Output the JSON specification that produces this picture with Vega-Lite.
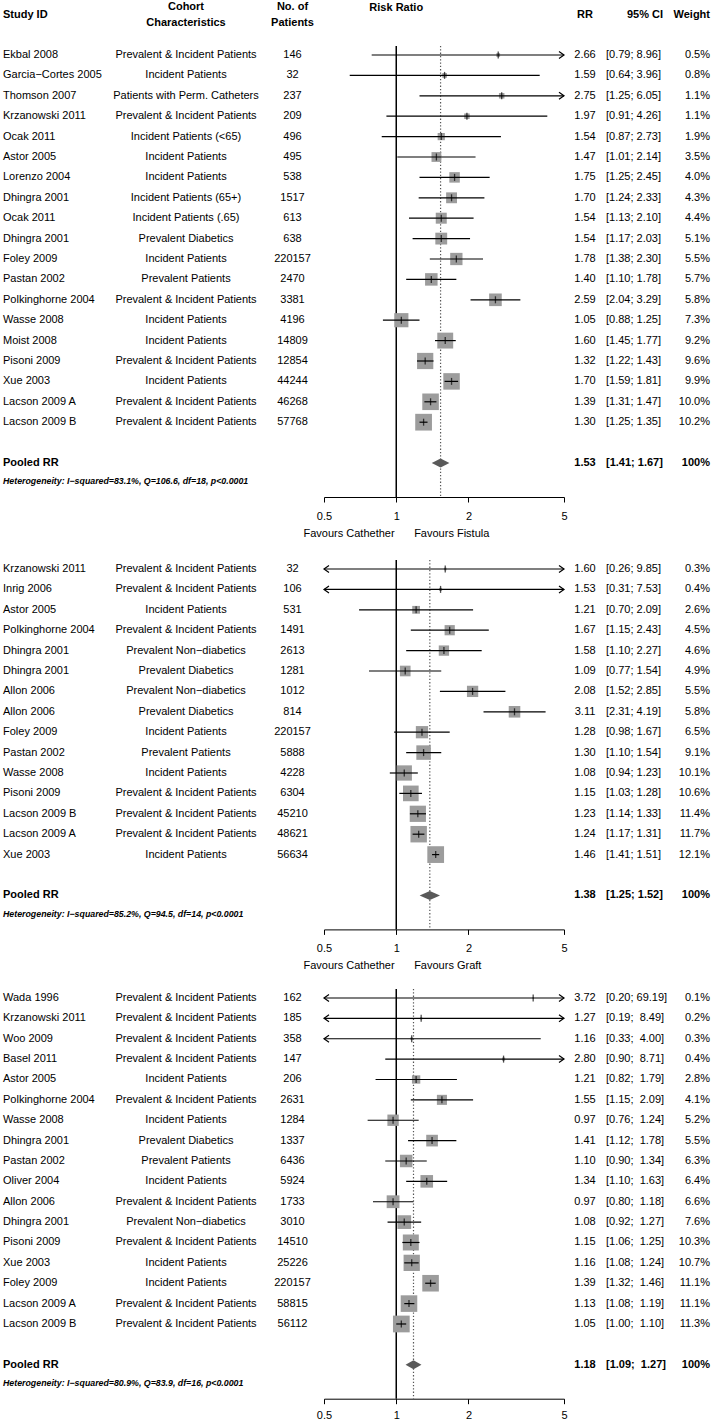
{
"$schema": "https://vega.github.io/schema/vega-lite/v6.json",
"padding": {"left": 3, "right": 5, "top": 0, "bottom": 0},
"config": {"font": "Liberation Sans", "view": {"stroke": null}, "text": {"fontSize": 11, "color": "black"}},
"datasets": {
"p1": [
{"id":"r1","study":"Ekbal 2008","cohort":"Prevalent & Incident Patients","n":146,"rr":2.66,"lo":0.79,"hi":8.96,"ci":"[0.79; 8.96]","w":0.005},
{"id":"r2","study":"Garcia−Cortes 2005","cohort":"Incident Patients","n":32,"rr":1.59,"lo":0.64,"hi":3.96,"ci":"[0.64; 3.96]","w":0.008},
{"id":"r3","study":"Thomson 2007","cohort":"Patients with Perm. Catheters","n":237,"rr":2.75,"lo":1.25,"hi":6.05,"ci":"[1.25; 6.05]","w":0.011},
{"id":"r4","study":"Krzanowski 2011","cohort":"Prevalent & Incident Patients","n":209,"rr":1.97,"lo":0.91,"hi":4.26,"ci":"[0.91; 4.26]","w":0.011},
{"id":"r5","study":"Ocak 2011","cohort":"Incident Patients (<65)","n":496,"rr":1.54,"lo":0.87,"hi":2.73,"ci":"[0.87; 2.73]","w":0.019},
{"id":"r6","study":"Astor 2005","cohort":"Incident Patients","n":495,"rr":1.47,"lo":1.01,"hi":2.14,"ci":"[1.01; 2.14]","w":0.035},
{"id":"r7","study":"Lorenzo 2004","cohort":"Incident Patients","n":538,"rr":1.75,"lo":1.25,"hi":2.45,"ci":"[1.25; 2.45]","w":0.040},
{"id":"r8","study":"Dhingra 2001","cohort":"Incident Patients (65+)","n":1517,"rr":1.70,"lo":1.24,"hi":2.33,"ci":"[1.24; 2.33]","w":0.043},
{"id":"r9","study":"Ocak 2011","cohort":"Incident Patients (.65)","n":613,"rr":1.54,"lo":1.13,"hi":2.10,"ci":"[1.13; 2.10]","w":0.044},
{"id":"r10","study":"Dhingra 2001","cohort":"Prevalent Diabetics","n":638,"rr":1.54,"lo":1.17,"hi":2.03,"ci":"[1.17; 2.03]","w":0.051},
{"id":"r11","study":"Foley 2009","cohort":"Incident Patients","n":220157,"rr":1.78,"lo":1.38,"hi":2.30,"ci":"[1.38; 2.30]","w":0.055},
{"id":"r12","study":"Pastan 2002","cohort":"Prevalent Patients","n":2470,"rr":1.40,"lo":1.10,"hi":1.78,"ci":"[1.10; 1.78]","w":0.057},
{"id":"r13","study":"Polkinghorne 2004","cohort":"Prevalent & Incident Patients","n":3381,"rr":2.59,"lo":2.04,"hi":3.29,"ci":"[2.04; 3.29]","w":0.058},
{"id":"r14","study":"Wasse 2008","cohort":"Incident Patients","n":4196,"rr":1.05,"lo":0.88,"hi":1.25,"ci":"[0.88; 1.25]","w":0.073},
{"id":"r15","study":"Moist 2008","cohort":"Incident Patients","n":14809,"rr":1.60,"lo":1.45,"hi":1.77,"ci":"[1.45; 1.77]","w":0.092},
{"id":"r16","study":"Pisoni 2009","cohort":"Prevalent & Incident Patients","n":12854,"rr":1.32,"lo":1.22,"hi":1.43,"ci":"[1.22; 1.43]","w":0.096},
{"id":"r17","study":"Xue 2003","cohort":"Incident Patients","n":44244,"rr":1.70,"lo":1.59,"hi":1.81,"ci":"[1.59; 1.81]","w":0.099},
{"id":"r18","study":"Lacson 2009 A","cohort":"Prevalent & Incident Patients","n":46268,"rr":1.39,"lo":1.31,"hi":1.47,"ci":"[1.31; 1.47]","w":0.100},
{"id":"r19","study":"Lacson 2009 B","cohort":"Prevalent & Incident Patients","n":57768,"rr":1.30,"lo":1.25,"hi":1.35,"ci":"[1.25; 1.35]","w":0.102}
],
"q1": [{"id":"pooled","label":"Pooled RR","rr":1.53,"lo":1.41,"hi":1.67,"ci":"[1.41; 1.67]","w":1,"het":"Heterogeneity: I−squared=83.1%, Q=106.6, df=18, p<0.0001"}],
"p2": [
{"id":"r1","study":"Krzanowski 2011","cohort":"Prevalent & Incident Patients","n":32,"rr":1.60,"lo":0.26,"hi":9.85,"ci":"[0.26; 9.85]","w":0.003},
{"id":"r2","study":"Inrig 2006","cohort":"Prevalent & Incident Patients","n":106,"rr":1.53,"lo":0.31,"hi":7.53,"ci":"[0.31; 7.53]","w":0.004},
{"id":"r3","study":"Astor 2005","cohort":"Incident Patients","n":531,"rr":1.21,"lo":0.70,"hi":2.09,"ci":"[0.70; 2.09]","w":0.026},
{"id":"r4","study":"Polkinghorne 2004","cohort":"Prevalent & Incident Patients","n":1491,"rr":1.67,"lo":1.15,"hi":2.43,"ci":"[1.15; 2.43]","w":0.045},
{"id":"r5","study":"Dhingra 2001","cohort":"Prevalent Non−diabetics","n":2613,"rr":1.58,"lo":1.10,"hi":2.27,"ci":"[1.10; 2.27]","w":0.046},
{"id":"r6","study":"Dhingra 2001","cohort":"Prevalent Diabetics","n":1281,"rr":1.09,"lo":0.77,"hi":1.54,"ci":"[0.77; 1.54]","w":0.049},
{"id":"r7","study":"Allon 2006","cohort":"Prevalent Non−diabetics","n":1012,"rr":2.08,"lo":1.52,"hi":2.85,"ci":"[1.52; 2.85]","w":0.055},
{"id":"r8","study":"Allon 2006","cohort":"Prevalent Diabetics","n":814,"rr":3.11,"lo":2.31,"hi":4.19,"ci":"[2.31; 4.19]","w":0.058},
{"id":"r9","study":"Foley 2009","cohort":"Incident Patients","n":220157,"rr":1.28,"lo":0.98,"hi":1.67,"ci":"[0.98; 1.67]","w":0.065},
{"id":"r10","study":"Pastan 2002","cohort":"Prevalent Patients","n":5888,"rr":1.30,"lo":1.10,"hi":1.54,"ci":"[1.10; 1.54]","w":0.091},
{"id":"r11","study":"Wasse 2008","cohort":"Incident Patients","n":4228,"rr":1.08,"lo":0.94,"hi":1.23,"ci":"[0.94; 1.23]","w":0.101},
{"id":"r12","study":"Pisoni 2009","cohort":"Prevalent & Incident Patients","n":6304,"rr":1.15,"lo":1.03,"hi":1.28,"ci":"[1.03; 1.28]","w":0.106},
{"id":"r13","study":"Lacson 2009 B","cohort":"Prevalent & Incident Patients","n":45210,"rr":1.23,"lo":1.14,"hi":1.33,"ci":"[1.14; 1.33]","w":0.114},
{"id":"r14","study":"Lacson 2009 A","cohort":"Prevalent & Incident Patients","n":48621,"rr":1.24,"lo":1.17,"hi":1.31,"ci":"[1.17; 1.31]","w":0.117},
{"id":"r15","study":"Xue 2003","cohort":"Incident Patients","n":56634,"rr":1.46,"lo":1.41,"hi":1.51,"ci":"[1.41; 1.51]","w":0.121}
],
"q2": [{"id":"pooled","label":"Pooled RR","rr":1.38,"lo":1.25,"hi":1.52,"ci":"[1.25; 1.52]","w":1,"het":"Heterogeneity: I−squared=85.2%, Q=94.5, df=14, p<0.0001"}],
"p3": [
{"id":"r1","study":"Wada 1996","cohort":"Prevalent & Incident Patients","n":162,"rr":3.72,"lo":0.20,"hi":69.19,"ci":"[0.20; 69.19]","w":0.001},
{"id":"r2","study":"Krzanowski 2011","cohort":"Prevalent & Incident Patients","n":185,"rr":1.27,"lo":0.19,"hi":8.49,"ci":"[0.19;\u00a0 8.49]","w":0.002},
{"id":"r3","study":"Woo 2009","cohort":"Prevalent & Incident Patients","n":358,"rr":1.16,"lo":0.33,"hi":4.00,"ci":"[0.33;\u00a0 4.00]","w":0.003},
{"id":"r4","study":"Basel 2011","cohort":"Prevalent & Incident Patients","n":147,"rr":2.80,"lo":0.90,"hi":8.71,"ci":"[0.90;\u00a0 8.71]","w":0.004},
{"id":"r5","study":"Astor 2005","cohort":"Incident Patients","n":206,"rr":1.21,"lo":0.82,"hi":1.79,"ci":"[0.82;\u00a0 1.79]","w":0.028},
{"id":"r6","study":"Polkinghorne 2004","cohort":"Prevalent & Incident Patients","n":2631,"rr":1.55,"lo":1.15,"hi":2.09,"ci":"[1.15;\u00a0 2.09]","w":0.041},
{"id":"r7","study":"Wasse 2008","cohort":"Incident Patients","n":1284,"rr":0.97,"lo":0.76,"hi":1.24,"ci":"[0.76;\u00a0 1.24]","w":0.052},
{"id":"r8","study":"Dhingra 2001","cohort":"Prevalent Diabetics","n":1337,"rr":1.41,"lo":1.12,"hi":1.78,"ci":"[1.12;\u00a0 1.78]","w":0.055},
{"id":"r9","study":"Pastan 2002","cohort":"Prevalent Patients","n":6436,"rr":1.10,"lo":0.90,"hi":1.34,"ci":"[0.90;\u00a0 1.34]","w":0.063},
{"id":"r10","study":"Oliver 2004","cohort":"Incident Patients","n":5924,"rr":1.34,"lo":1.10,"hi":1.63,"ci":"[1.10;\u00a0 1.63]","w":0.064},
{"id":"r11","study":"Allon 2006","cohort":"Prevalent & Incident Patients","n":1733,"rr":0.97,"lo":0.80,"hi":1.18,"ci":"[0.80;\u00a0 1.18]","w":0.066},
{"id":"r12","study":"Dhingra 2001","cohort":"Prevalent Non−diabetics","n":3010,"rr":1.08,"lo":0.92,"hi":1.27,"ci":"[0.92;\u00a0 1.27]","w":0.076},
{"id":"r13","study":"Pisoni 2009","cohort":"Prevalent & Incident Patients","n":14510,"rr":1.15,"lo":1.06,"hi":1.25,"ci":"[1.06;\u00a0 1.25]","w":0.103},
{"id":"r14","study":"Xue 2003","cohort":"Incident Patients","n":25226,"rr":1.16,"lo":1.08,"hi":1.24,"ci":"[1.08;\u00a0 1.24]","w":0.107},
{"id":"r15","study":"Foley 2009","cohort":"Incident Patients","n":220157,"rr":1.39,"lo":1.32,"hi":1.46,"ci":"[1.32;\u00a0 1.46]","w":0.111},
{"id":"r16","study":"Lacson 2009 A","cohort":"Prevalent & Incident Patients","n":58815,"rr":1.13,"lo":1.08,"hi":1.19,"ci":"[1.08;\u00a0 1.19]","w":0.111},
{"id":"r17","study":"Lacson 2009 B","cohort":"Prevalent & Incident Patients","n":56112,"rr":1.05,"lo":1.00,"hi":1.10,"ci":"[1.00;\u00a0 1.10]","w":0.113}
],
"q3": [{"id":"pooled","label":"Pooled RR","rr":1.18,"lo":1.09,"hi":1.27,"ci":"[1.09;\u00a0 1.27]","w":1,"het":"Heterogeneity: I−squared=80.9%, Q=83.9, df=16, p<0.0001"}]
},
"spacing": 21,
"resolve": {"scale": {"size": "independent"}},
"vconcat": [
{"spacing": 15, "resolve": {"scale": {"size": "independent"}}, "vconcat": [
 {"bounds": "flush", "spacing": 0, "hconcat": [
  {"width": 108, "height": 30, "data": {"values": [{}]}, "mark": {"type": "text", "align": "left", "fontWeight": "bold", "text": "Study ID"}, "encoding": {"x": {"datum": 0, "type": "quantitative", "scale": {"domain": [0, 1]}, "axis": null}}},
  {"width": 150, "height": 30, "data": {"values": [{}]}, "mark": {"type": "text", "fontWeight": "bold", "text": ["Cohort", "Characteristics"], "lineHeight": 15.3, "dy": -7.65}, "encoding": {}},
  {"width": 63, "height": 30, "data": {"values": [{}]}, "mark": {"type": "text", "fontWeight": "bold", "text": ["No. of", "Patients"], "lineHeight": 15.3, "dy": -7.65}, "encoding": {}},
  {"width": 240, "height": 30, "data": {"values": [{}]}, "mark": {"type": "text", "fontWeight": "bold", "text": "Risk Ratio", "dy": -7}, "encoding": {"x": {"datum": 1, "type": "quantitative", "scale": {"type": "log", "domain": [0.5, 5], "nice": false}, "axis": null}}},
  {"width": 42, "height": 30, "data": {"values": [{}]}, "mark": {"type": "text", "fontWeight": "bold", "text": "RR"}, "encoding": {}},
  {"width": 57, "height": 30, "data": {"values": [{}]}, "mark": {"type": "text", "align": "right", "fontWeight": "bold", "text": "95% CI"}, "encoding": {"x": {"datum": 1, "type": "quantitative", "scale": {"domain": [0, 1]}, "axis": null}}},
  {"width": 47, "height": 30, "data": {"values": [{}]}, "mark": {"type": "text", "align": "right", "fontWeight": "bold", "text": "Weight"}, "encoding": {"x": {"datum": 1, "type": "quantitative", "scale": {"domain": [0, 1]}, "axis": null}}}
 ]},
 {"bounds": "flush", "spacing": 0, "hconcat": [
  {"width": 108, "height": 451, "layer": [
   {"data": {"name": "p1"}, "mark": {"type": "text", "align": "left"}, "encoding": {"x": {"datum": 0, "type": "quantitative", "scale": {"domain": [0, 1]}, "axis": null}, "y": {"field": "id", "type": "nominal", "scale": {"type": "point", "domain": ["r1","r2","r3","r4","r5","r6","r7","r8","r9","r10","r11","r12","r13","r14","r15","r16","r17","r18","r19","gap","pooled","het"], "padding": 0.554, "align": 0.398}, "axis": null}, "text": {"field": "study", "type": "nominal"}}},
   {"data": {"name": "q1"}, "mark": {"type": "text", "align": "left", "fontWeight": "bold"}, "encoding": {"x": {"datum": 0, "type": "quantitative", "scale": {"domain": [0, 1]}, "axis": null}, "y": {"field": "id", "type": "nominal", "axis": null}, "text": {"field": "label", "type": "nominal"}}},
   {"data": {"name": "q1"}, "mark": {"type": "text", "align": "left", "fontWeight": "bold", "fontStyle": "italic", "fontSize": 8.8, "dy": -2}, "encoding": {"x": {"datum": 0, "type": "quantitative", "scale": {"domain": [0, 1]}, "axis": null}, "y": {"datum": "het", "type": "nominal", "axis": null}, "text": {"field": "het", "type": "nominal"}}}
  ]},
  {"width": 150, "height": 451, "data": {"name": "p1"}, "mark": {"type": "text"}, "encoding": {"y": {"field": "id", "type": "nominal", "scale": {"type": "point", "domain": ["r1","r2","r3","r4","r5","r6","r7","r8","r9","r10","r11","r12","r13","r14","r15","r16","r17","r18","r19","gap","pooled","het"], "padding": 0.554, "align": 0.398}, "axis": null}, "text": {"field": "cohort", "type": "nominal"}}},
  {"width": 63, "height": 451, "data": {"name": "p1"}, "mark": {"type": "text"}, "encoding": {"y": {"field": "id", "type": "nominal", "scale": {"type": "point", "domain": ["r1","r2","r3","r4","r5","r6","r7","r8","r9","r10","r11","r12","r13","r14","r15","r16","r17","r18","r19","gap","pooled","het"], "padding": 0.554, "align": 0.398}, "axis": null}, "text": {"field": "n", "type": "nominal"}}},
  {"width": 240, "height": 451, "layer": [
   {"data": {"values": [{"ref": 1}]}, "mark": {"type": "rule", "color": "black", "strokeWidth": 1.5}, "encoding": {"x": {"field": "ref", "type": "quantitative", "scale": {"type": "log", "domain": [0.5, 5], "clamp": true, "nice": false}, "axis": {"values": [0.5, 1, 2, 5], "format": "~g", "grid": false, "domainColor": "black", "tickColor": "black", "tickSize": 5, "labelFontSize": 11, "labelColor": "black", "labelPadding": 8, "labelFlush": false, "labelOverlap": false, "title": "Favours Cathether\u2003\u2002\u00a0Favours Fistula", "titleFontWeight": "normal", "titleFontSize": 11, "titleColor": "black", "titleAlign": "left", "titleX": -21, "titlePadding": 6}}}},
   {"data": {"name": "q1"}, "mark": {"type": "rule", "color": "#555555", "strokeWidth": 1.2, "strokeDash": [1.3, 2]}, "encoding": {"x": {"field": "rr", "type": "quantitative"}}},
   {"data": {"name": "p1"}, "mark": {"type": "point", "shape": "square", "filled": true, "color": "#9c9c9c", "opacity": 1, "strokeWidth": 0}, "encoding": {"x": {"field": "rr", "type": "quantitative"}, "y": {"field": "id", "type": "nominal", "scale": {"type": "point", "domain": ["r1","r2","r3","r4","r5","r6","r7","r8","r9","r10","r11","r12","r13","r14","r15","r16","r17","r18","r19","gap","pooled","het"], "padding": 0.554, "align": 0.398}, "axis": null}, "size": {"field": "w", "type": "quantitative", "scale": {"type": "linear", "domain": [0, 0.102], "range": [0, 280]}, "legend": null}}},
   {"data": {"name": "p1"}, "mark": {"type": "rule", "color": "black", "strokeWidth": 1.2}, "encoding": {"x": {"field": "lo", "type": "quantitative"}, "x2": {"field": "hi"}, "y": {"field": "id", "type": "nominal", "axis": null}}},
   {"data": {"name": "p1"}, "mark": {"type": "tick", "color": "black", "thickness": 1.3, "size": 7}, "encoding": {"x": {"field": "rr", "type": "quantitative"}, "y": {"field": "id", "type": "nominal", "axis": null}}},
   {"data": {"name": "p1"}, "transform": [{"filter": "datum.hi > 5"}], "mark": {"type": "point", "shape": "M-1,-0.7L0,0L-1,0.7", "filled": false, "color": "black", "strokeWidth": 1.2, "size": 100, "opacity": 1}, "encoding": {"x": {"field": "hi", "type": "quantitative"}, "y": {"field": "id", "type": "nominal", "axis": null}}},
   {"data": {"name": "p1"}, "transform": [{"filter": "datum.lo < 0.5"}], "mark": {"type": "point", "shape": "M1,-0.7L0,0L1,0.7", "filled": false, "color": "black", "strokeWidth": 1.2, "size": 100, "opacity": 1}, "encoding": {"x": {"field": "lo", "type": "quantitative"}, "y": {"field": "id", "type": "nominal", "axis": null}}},
   {"data": {"name": "q1"}, "mark": {"type": "point", "shape": "M-1,0L0,-0.51L1,0L0,0.51Z", "filled": true, "color": "#595959", "size": 312, "opacity": 1}, "encoding": {"x": {"field": "rr", "type": "quantitative"}, "y": {"field": "id", "type": "nominal", "axis": null}}}
  ]},
  {"width": 42, "height": 451, "layer": [
   {"data": {"name": "p1"}, "mark": {"type": "text"}, "encoding": {"y": {"field": "id", "type": "nominal", "scale": {"type": "point", "domain": ["r1","r2","r3","r4","r5","r6","r7","r8","r9","r10","r11","r12","r13","r14","r15","r16","r17","r18","r19","gap","pooled","het"], "padding": 0.554, "align": 0.398}, "axis": null}, "text": {"field": "rr", "type": "quantitative", "format": ".2f"}}},
   {"data": {"name": "q1"}, "mark": {"type": "text", "fontWeight": "bold"}, "encoding": {"y": {"field": "id", "type": "nominal", "axis": null}, "text": {"field": "rr", "type": "quantitative", "format": ".2f"}}}
  ]},
  {"width": 57, "height": 451, "layer": [
   {"data": {"name": "p1"}, "mark": {"type": "text", "align": "left"}, "encoding": {"x": {"datum": 0, "type": "quantitative", "scale": {"domain": [0, 1]}, "axis": null}, "y": {"field": "id", "type": "nominal", "scale": {"type": "point", "domain": ["r1","r2","r3","r4","r5","r6","r7","r8","r9","r10","r11","r12","r13","r14","r15","r16","r17","r18","r19","gap","pooled","het"], "padding": 0.554, "align": 0.398}, "axis": null}, "text": {"field": "ci", "type": "nominal"}}},
   {"data": {"name": "q1"}, "mark": {"type": "text", "align": "left", "fontWeight": "bold"}, "encoding": {"x": {"datum": 0, "type": "quantitative", "scale": {"domain": [0, 1]}, "axis": null}, "y": {"field": "id", "type": "nominal", "axis": null}, "text": {"field": "ci", "type": "nominal"}}}
  ]},
  {"width": 47, "height": 451, "layer": [
   {"data": {"name": "p1"}, "mark": {"type": "text", "align": "right"}, "encoding": {"x": {"datum": 1, "type": "quantitative", "scale": {"domain": [0, 1]}, "axis": null}, "y": {"field": "id", "type": "nominal", "scale": {"type": "point", "domain": ["r1","r2","r3","r4","r5","r6","r7","r8","r9","r10","r11","r12","r13","r14","r15","r16","r17","r18","r19","gap","pooled","het"], "padding": 0.554, "align": 0.398}, "axis": null}, "text": {"field": "w", "type": "quantitative", "format": ".1%"}}},
   {"data": {"name": "q1"}, "mark": {"type": "text", "align": "right", "fontWeight": "bold"}, "encoding": {"x": {"datum": 1, "type": "quantitative", "scale": {"domain": [0, 1]}, "axis": null}, "y": {"field": "id", "type": "nominal", "axis": null}, "text": {"field": "w", "type": "quantitative", "format": ".0%"}}}
  ]}
 ]}
]},
{"spacing": 17, "resolve": {"scale": {"size": "independent"}}, "vconcat": [
{"bounds": "flush", "spacing": 0, "hconcat": [
  {"width": 108, "height": 369.4, "layer": [
   {"data": {"name": "p2"}, "mark": {"type": "text", "align": "left"}, "encoding": {"x": {"datum": 0, "type": "quantitative", "scale": {"domain": [0, 1]}, "axis": null}, "y": {"field": "id", "type": "nominal", "scale": {"type": "point", "domain": ["r1","r2","r3","r4","r5","r6","r7","r8","r9","r10","r11","r12","r13","r14","r15","gap","pooled","het"], "padding": 0.554, "align": 0.398}, "axis": null}, "text": {"field": "study", "type": "nominal"}}},
   {"data": {"name": "q2"}, "mark": {"type": "text", "align": "left", "fontWeight": "bold"}, "encoding": {"x": {"datum": 0, "type": "quantitative", "scale": {"domain": [0, 1]}, "axis": null}, "y": {"field": "id", "type": "nominal", "axis": null}, "text": {"field": "label", "type": "nominal"}}},
   {"data": {"name": "q2"}, "mark": {"type": "text", "align": "left", "fontWeight": "bold", "fontStyle": "italic", "fontSize": 8.8, "dy": -2}, "encoding": {"x": {"datum": 0, "type": "quantitative", "scale": {"domain": [0, 1]}, "axis": null}, "y": {"datum": "het", "type": "nominal", "axis": null}, "text": {"field": "het", "type": "nominal"}}}
  ]},
  {"width": 150, "height": 369.4, "data": {"name": "p2"}, "mark": {"type": "text"}, "encoding": {"y": {"field": "id", "type": "nominal", "scale": {"type": "point", "domain": ["r1","r2","r3","r4","r5","r6","r7","r8","r9","r10","r11","r12","r13","r14","r15","gap","pooled","het"], "padding": 0.554, "align": 0.398}, "axis": null}, "text": {"field": "cohort", "type": "nominal"}}},
  {"width": 63, "height": 369.4, "data": {"name": "p2"}, "mark": {"type": "text"}, "encoding": {"y": {"field": "id", "type": "nominal", "scale": {"type": "point", "domain": ["r1","r2","r3","r4","r5","r6","r7","r8","r9","r10","r11","r12","r13","r14","r15","gap","pooled","het"], "padding": 0.554, "align": 0.398}, "axis": null}, "text": {"field": "n", "type": "nominal"}}},
  {"width": 240, "height": 369.4, "layer": [
   {"data": {"values": [{"ref": 1}]}, "mark": {"type": "rule", "color": "black", "strokeWidth": 1.5}, "encoding": {"x": {"field": "ref", "type": "quantitative", "scale": {"type": "log", "domain": [0.5, 5], "clamp": true, "nice": false}, "axis": {"values": [0.5, 1, 2, 5], "format": "~g", "grid": false, "domainColor": "black", "tickColor": "black", "tickSize": 5, "labelFontSize": 11, "labelColor": "black", "labelPadding": 8, "labelFlush": false, "labelOverlap": false, "title": "Favours Cathether\u2003\u2002\u00a0Favours Graft", "titleFontWeight": "normal", "titleFontSize": 11, "titleColor": "black", "titleAlign": "left", "titleX": -21, "titlePadding": 6}}}},
   {"data": {"name": "q2"}, "mark": {"type": "rule", "color": "#555555", "strokeWidth": 1.2, "strokeDash": [1.3, 2]}, "encoding": {"x": {"field": "rr", "type": "quantitative"}}},
   {"data": {"name": "p2"}, "mark": {"type": "point", "shape": "square", "filled": true, "color": "#9c9c9c", "opacity": 1, "strokeWidth": 0}, "encoding": {"x": {"field": "rr", "type": "quantitative"}, "y": {"field": "id", "type": "nominal", "scale": {"type": "point", "domain": ["r1","r2","r3","r4","r5","r6","r7","r8","r9","r10","r11","r12","r13","r14","r15","gap","pooled","het"], "padding": 0.554, "align": 0.398}, "axis": null}, "size": {"field": "w", "type": "quantitative", "scale": {"type": "linear", "domain": [0, 0.121], "range": [0, 280]}, "legend": null}}},
   {"data": {"name": "p2"}, "mark": {"type": "rule", "color": "black", "strokeWidth": 1.2}, "encoding": {"x": {"field": "lo", "type": "quantitative"}, "x2": {"field": "hi"}, "y": {"field": "id", "type": "nominal", "axis": null}}},
   {"data": {"name": "p2"}, "mark": {"type": "tick", "color": "black", "thickness": 1.3, "size": 7}, "encoding": {"x": {"field": "rr", "type": "quantitative"}, "y": {"field": "id", "type": "nominal", "axis": null}}},
   {"data": {"name": "p2"}, "transform": [{"filter": "datum.hi > 5"}], "mark": {"type": "point", "shape": "M-1,-0.7L0,0L-1,0.7", "filled": false, "color": "black", "strokeWidth": 1.2, "size": 100, "opacity": 1}, "encoding": {"x": {"field": "hi", "type": "quantitative"}, "y": {"field": "id", "type": "nominal", "axis": null}}},
   {"data": {"name": "p2"}, "transform": [{"filter": "datum.lo < 0.5"}], "mark": {"type": "point", "shape": "M1,-0.7L0,0L1,0.7", "filled": false, "color": "black", "strokeWidth": 1.2, "size": 100, "opacity": 1}, "encoding": {"x": {"field": "lo", "type": "quantitative"}, "y": {"field": "id", "type": "nominal", "axis": null}}},
   {"data": {"name": "q2"}, "mark": {"type": "point", "shape": "M-1,0L0,-0.44L1,0L0,0.44Z", "filled": true, "color": "#595959", "size": 416, "opacity": 1}, "encoding": {"x": {"field": "rr", "type": "quantitative"}, "y": {"field": "id", "type": "nominal", "axis": null}}}
  ]},
  {"width": 42, "height": 369.4, "layer": [
   {"data": {"name": "p2"}, "mark": {"type": "text"}, "encoding": {"y": {"field": "id", "type": "nominal", "scale": {"type": "point", "domain": ["r1","r2","r3","r4","r5","r6","r7","r8","r9","r10","r11","r12","r13","r14","r15","gap","pooled","het"], "padding": 0.554, "align": 0.398}, "axis": null}, "text": {"field": "rr", "type": "quantitative", "format": ".2f"}}},
   {"data": {"name": "q2"}, "mark": {"type": "text", "fontWeight": "bold"}, "encoding": {"y": {"field": "id", "type": "nominal", "axis": null}, "text": {"field": "rr", "type": "quantitative", "format": ".2f"}}}
  ]},
  {"width": 57, "height": 369.4, "layer": [
   {"data": {"name": "p2"}, "mark": {"type": "text", "align": "left"}, "encoding": {"x": {"datum": 0, "type": "quantitative", "scale": {"domain": [0, 1]}, "axis": null}, "y": {"field": "id", "type": "nominal", "scale": {"type": "point", "domain": ["r1","r2","r3","r4","r5","r6","r7","r8","r9","r10","r11","r12","r13","r14","r15","gap","pooled","het"], "padding": 0.554, "align": 0.398}, "axis": null}, "text": {"field": "ci", "type": "nominal"}}},
   {"data": {"name": "q2"}, "mark": {"type": "text", "align": "left", "fontWeight": "bold"}, "encoding": {"x": {"datum": 0, "type": "quantitative", "scale": {"domain": [0, 1]}, "axis": null}, "y": {"field": "id", "type": "nominal", "axis": null}, "text": {"field": "ci", "type": "nominal"}}}
  ]},
  {"width": 47, "height": 369.4, "layer": [
   {"data": {"name": "p2"}, "mark": {"type": "text", "align": "right"}, "encoding": {"x": {"datum": 1, "type": "quantitative", "scale": {"domain": [0, 1]}, "axis": null}, "y": {"field": "id", "type": "nominal", "scale": {"type": "point", "domain": ["r1","r2","r3","r4","r5","r6","r7","r8","r9","r10","r11","r12","r13","r14","r15","gap","pooled","het"], "padding": 0.554, "align": 0.398}, "axis": null}, "text": {"field": "w", "type": "quantitative", "format": ".1%"}}},
   {"data": {"name": "q2"}, "mark": {"type": "text", "align": "right", "fontWeight": "bold"}, "encoding": {"x": {"datum": 1, "type": "quantitative", "scale": {"domain": [0, 1]}, "axis": null}, "y": {"field": "id", "type": "nominal", "axis": null}, "text": {"field": "w", "type": "quantitative", "format": ".0%"}}}
  ]}
]},
{"bounds": "flush", "spacing": 0, "hconcat": [
  {"width": 108, "height": 409.7, "layer": [
   {"data": {"name": "p3"}, "mark": {"type": "text", "align": "left"}, "encoding": {"x": {"datum": 0, "type": "quantitative", "scale": {"domain": [0, 1]}, "axis": null}, "y": {"field": "id", "type": "nominal", "scale": {"type": "point", "domain": ["r1","r2","r3","r4","r5","r6","r7","r8","r9","r10","r11","r12","r13","r14","r15","r16","r17","gap","pooled","het"], "padding": 0.554, "align": 0.398}, "axis": null}, "text": {"field": "study", "type": "nominal"}}},
   {"data": {"name": "q3"}, "mark": {"type": "text", "align": "left", "fontWeight": "bold"}, "encoding": {"x": {"datum": 0, "type": "quantitative", "scale": {"domain": [0, 1]}, "axis": null}, "y": {"field": "id", "type": "nominal", "axis": null}, "text": {"field": "label", "type": "nominal"}}},
   {"data": {"name": "q3"}, "mark": {"type": "text", "align": "left", "fontWeight": "bold", "fontStyle": "italic", "fontSize": 8.8, "dy": -2}, "encoding": {"x": {"datum": 0, "type": "quantitative", "scale": {"domain": [0, 1]}, "axis": null}, "y": {"datum": "het", "type": "nominal", "axis": null}, "text": {"field": "het", "type": "nominal"}}}
  ]},
  {"width": 150, "height": 409.7, "data": {"name": "p3"}, "mark": {"type": "text"}, "encoding": {"y": {"field": "id", "type": "nominal", "scale": {"type": "point", "domain": ["r1","r2","r3","r4","r5","r6","r7","r8","r9","r10","r11","r12","r13","r14","r15","r16","r17","gap","pooled","het"], "padding": 0.554, "align": 0.398}, "axis": null}, "text": {"field": "cohort", "type": "nominal"}}},
  {"width": 63, "height": 409.7, "data": {"name": "p3"}, "mark": {"type": "text"}, "encoding": {"y": {"field": "id", "type": "nominal", "scale": {"type": "point", "domain": ["r1","r2","r3","r4","r5","r6","r7","r8","r9","r10","r11","r12","r13","r14","r15","r16","r17","gap","pooled","het"], "padding": 0.554, "align": 0.398}, "axis": null}, "text": {"field": "n", "type": "nominal"}}},
  {"width": 240, "height": 409.7, "layer": [
   {"data": {"values": [{"ref": 1}]}, "mark": {"type": "rule", "color": "black", "strokeWidth": 1.5}, "encoding": {"x": {"field": "ref", "type": "quantitative", "scale": {"type": "log", "domain": [0.5, 5], "clamp": true, "nice": false}, "axis": {"values": [0.5, 1, 2, 5], "format": "~g", "grid": false, "domainColor": "black", "tickColor": "black", "tickSize": 5, "labelFontSize": 11, "labelColor": "black", "labelPadding": 6, "labelFlush": false, "labelOverlap": false, "title": null}}}},
   {"data": {"name": "q3"}, "mark": {"type": "rule", "color": "#555555", "strokeWidth": 1.2, "strokeDash": [1.3, 2]}, "encoding": {"x": {"field": "rr", "type": "quantitative"}}},
   {"data": {"name": "p3"}, "mark": {"type": "point", "shape": "square", "filled": true, "color": "#9c9c9c", "opacity": 1, "strokeWidth": 0}, "encoding": {"x": {"field": "rr", "type": "quantitative"}, "y": {"field": "id", "type": "nominal", "scale": {"type": "point", "domain": ["r1","r2","r3","r4","r5","r6","r7","r8","r9","r10","r11","r12","r13","r14","r15","r16","r17","gap","pooled","het"], "padding": 0.554, "align": 0.398}, "axis": null}, "size": {"field": "w", "type": "quantitative", "scale": {"type": "linear", "domain": [0, 0.113], "range": [0, 280]}, "legend": null}}},
   {"data": {"name": "p3"}, "mark": {"type": "rule", "color": "black", "strokeWidth": 1.2}, "encoding": {"x": {"field": "lo", "type": "quantitative"}, "x2": {"field": "hi"}, "y": {"field": "id", "type": "nominal", "axis": null}}},
   {"data": {"name": "p3"}, "mark": {"type": "tick", "color": "black", "thickness": 1.3, "size": 7}, "encoding": {"x": {"field": "rr", "type": "quantitative"}, "y": {"field": "id", "type": "nominal", "axis": null}}},
   {"data": {"name": "p3"}, "transform": [{"filter": "datum.hi > 5"}], "mark": {"type": "point", "shape": "M-1,-0.7L0,0L-1,0.7", "filled": false, "color": "black", "strokeWidth": 1.2, "size": 100, "opacity": 1}, "encoding": {"x": {"field": "hi", "type": "quantitative"}, "y": {"field": "id", "type": "nominal", "axis": null}}},
   {"data": {"name": "p3"}, "transform": [{"filter": "datum.lo < 0.5"}], "mark": {"type": "point", "shape": "M1,-0.7L0,0L1,0.7", "filled": false, "color": "black", "strokeWidth": 1.2, "size": 100, "opacity": 1}, "encoding": {"x": {"field": "lo", "type": "quantitative"}, "y": {"field": "id", "type": "nominal", "axis": null}}},
   {"data": {"name": "q3"}, "mark": {"type": "point", "shape": "M-1,0L0,-0.566L1,0L0,0.566Z", "filled": true, "color": "#595959", "size": 253, "opacity": 1}, "encoding": {"x": {"field": "rr", "type": "quantitative"}, "y": {"field": "id", "type": "nominal", "axis": null}}}
  ]},
  {"width": 42, "height": 409.7, "layer": [
   {"data": {"name": "p3"}, "mark": {"type": "text"}, "encoding": {"y": {"field": "id", "type": "nominal", "scale": {"type": "point", "domain": ["r1","r2","r3","r4","r5","r6","r7","r8","r9","r10","r11","r12","r13","r14","r15","r16","r17","gap","pooled","het"], "padding": 0.554, "align": 0.398}, "axis": null}, "text": {"field": "rr", "type": "quantitative", "format": ".2f"}}},
   {"data": {"name": "q3"}, "mark": {"type": "text", "fontWeight": "bold"}, "encoding": {"y": {"field": "id", "type": "nominal", "axis": null}, "text": {"field": "rr", "type": "quantitative", "format": ".2f"}}}
  ]},
  {"width": 57, "height": 409.7, "layer": [
   {"data": {"name": "p3"}, "mark": {"type": "text", "align": "left"}, "encoding": {"x": {"datum": 0, "type": "quantitative", "scale": {"domain": [0, 1]}, "axis": null}, "y": {"field": "id", "type": "nominal", "scale": {"type": "point", "domain": ["r1","r2","r3","r4","r5","r6","r7","r8","r9","r10","r11","r12","r13","r14","r15","r16","r17","gap","pooled","het"], "padding": 0.554, "align": 0.398}, "axis": null}, "text": {"field": "ci", "type": "nominal"}}},
   {"data": {"name": "q3"}, "mark": {"type": "text", "align": "left", "fontWeight": "bold"}, "encoding": {"x": {"datum": 0, "type": "quantitative", "scale": {"domain": [0, 1]}, "axis": null}, "y": {"field": "id", "type": "nominal", "axis": null}, "text": {"field": "ci", "type": "nominal"}}}
  ]},
  {"width": 47, "height": 409.7, "layer": [
   {"data": {"name": "p3"}, "mark": {"type": "text", "align": "right"}, "encoding": {"x": {"datum": 1, "type": "quantitative", "scale": {"domain": [0, 1]}, "axis": null}, "y": {"field": "id", "type": "nominal", "scale": {"type": "point", "domain": ["r1","r2","r3","r4","r5","r6","r7","r8","r9","r10","r11","r12","r13","r14","r15","r16","r17","gap","pooled","het"], "padding": 0.554, "align": 0.398}, "axis": null}, "text": {"field": "w", "type": "quantitative", "format": ".1%"}}},
   {"data": {"name": "q3"}, "mark": {"type": "text", "align": "right", "fontWeight": "bold"}, "encoding": {"x": {"datum": 1, "type": "quantitative", "scale": {"domain": [0, 1]}, "axis": null}, "y": {"field": "id", "type": "nominal", "axis": null}, "text": {"field": "w", "type": "quantitative", "format": ".0%"}}}
  ]}
]}
]}
]
}
